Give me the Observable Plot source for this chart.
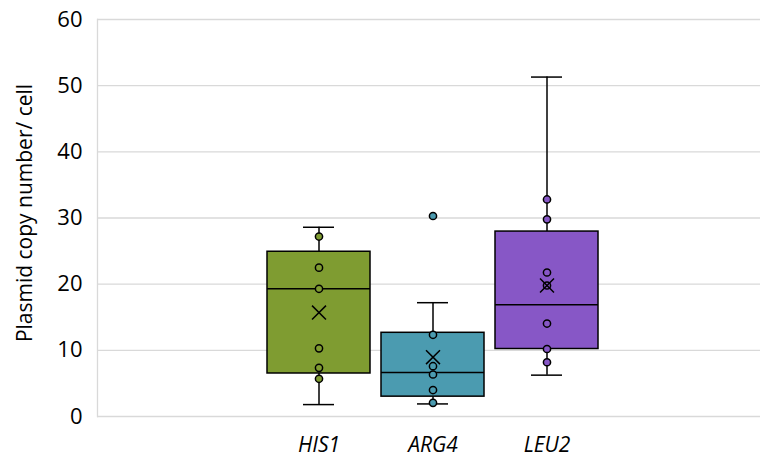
<!DOCTYPE html>
<html>
<head>
<meta charset="utf-8">
<script src="https://cdn.jsdelivr.net/npm/d3@7"></script>
<script src="https://cdn.jsdelivr.net/npm/@observablehq/plot@0.6"></script>
<style>
  html, body { margin: 0; padding: 0; background: #fff; }
  #chart svg { display: block; }
</style>
</head>
<body>
<div id="chart"></div>
<script>
// ---- data ----
const categories = ["HIS1", "ARG4", "LEU2"];
const q1 = [6.5, 3.0, 10.2];
const median = [19.3, 6.65, 16.9];
const q3 = [24.9, 12.65, 27.95];
const whiskerLow = [1.8, 1.9, 6.25];
const whiskerHigh = [28.6, 17.2, 51.3];
const mean = [15.7, 8.97, 19.8];
const his1Points = [27.2, 22.5, 19.3, 10.3, 7.35, 5.7];
const arg4Points = [30.3, 12.35, 7.6, 6.35, 4.0, 2.07];
const leu2Points = [32.8, 29.8, 21.76, 19.8, 14.05, 10.2, 8.2];
const yTicks = [0, 10, 20, 30, 40, 50, 60];
const colors = ["#7f9c31", "#4b9bb0", "#8757c6"];

// ---- tables built from the arrays ----
const boxes = categories.map((c, i) => ({
  cat: c, q1: q1[i], med: median[i], q3: q3[i],
  lo: whiskerLow[i], hi: whiskerHigh[i], mean: mean[i]
}));
const pointSets = [his1Points, arg4Points, leu2Points];
const points = categories.flatMap((c, i) => pointSets[i].map(v => ({cat: c, v})));

const font = "'Open Sans', sans-serif";
const gray = "#d9d9d9";

const chart = Plot.plot({
  width: 763,
  height: 458,
  marginLeft: 97,
  marginRight: 3,
  marginTop: 19,
  marginBottom: 42,
  style: {fontFamily: font, background: "#fff"},
  x: {
    domain: categories,
    paddingInner: 0.0976,
    paddingOuter: 1.4365,
    align: 0.512,
    label: null
  },
  y: {domain: [0, 60], label: null},
  color: {domain: categories, range: colors},
  marks: [
    Plot.ruleY(yTicks.filter(d => d > 0), {stroke: gray, strokeWidth: 1.3}),
    Plot.ruleY([0], {stroke: gray, strokeWidth: 1.3}),
    Plot.frame({anchor: "left", stroke: gray, strokeWidth: 1.3}),
    Plot.axisY({
      ticks: yTicks, tickSize: 0, tickPadding: 15, fontSize: 22,
      fill: "#000", label: null
    }),
    Plot.axisX({
      tickSize: 0, tickPadding: 21, fontSize: 21, fontStyle: "italic",
      fill: "#000", label: null
    }),
    Plot.text(["Plasmid copy number/ cell"], {
      frameAnchor: "left", dx: -72, dy: -5, rotate: -90, fontSize: 21, fill: "#000",
      textAnchor: "middle"
    }),
    // whiskers
    Plot.ruleX(boxes, {x: "cat", y1: "q3", y2: "hi", stroke: "#000", strokeWidth: 1.5}),
    Plot.ruleX(boxes, {x: "cat", y1: "lo", y2: "q1", stroke: "#000", strokeWidth: 1.5}),
    // caps
    Plot.tickY(boxes, {x: "cat", y: "hi", stroke: "#000", strokeWidth: 1.5, inset: 36}),
    Plot.tickY(boxes, {x: "cat", y: "lo", stroke: "#000", strokeWidth: 1.5, inset: 36}),
    // boxes
    Plot.barY(boxes, {x: "cat", y1: "q1", y2: "q3", fill: "cat", stroke: "#000", strokeWidth: 1.5}),
    Plot.tickY(boxes, {x: "cat", y: "med", stroke: "#000", strokeWidth: 1.5}),
    // points
    Plot.dot(points, {x: "cat", y: "v", r: 3.6, fill: "cat", stroke: "#000", strokeWidth: 1.5}),
    // mean
    Plot.dot(boxes, {x: "cat", y: "mean", symbol: "times", r: 6.4, stroke: "#000", strokeWidth: 1.5})
  ]
});
document.getElementById("chart").append(chart);
</script>
</body>
</html>
